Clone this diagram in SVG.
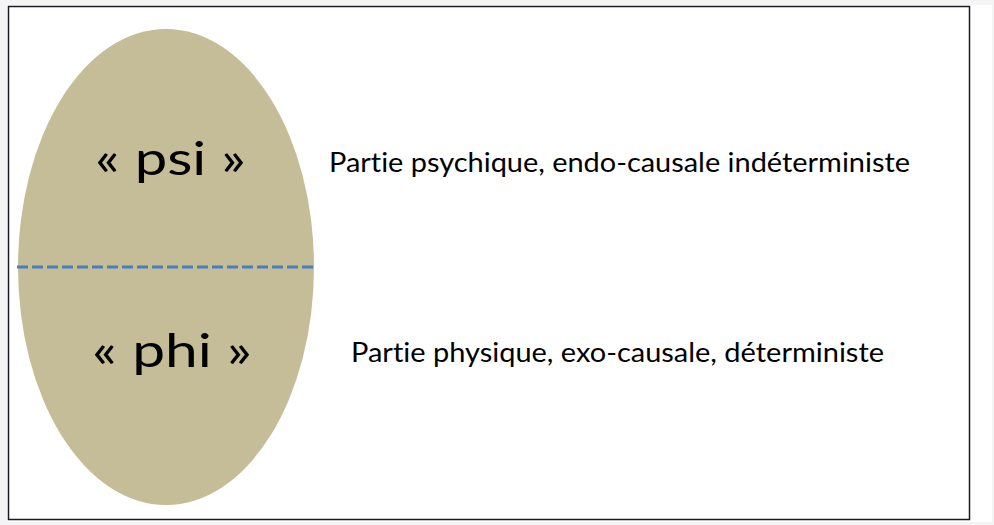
<svg xmlns="http://www.w3.org/2000/svg" width="994" height="525" viewBox="0 0 994 525">
<style>
text{font-variant-ligatures:none;font-feature-settings:"liga" 0,"clig" 0}
.big{font-family:Lato,"Liberation Sans",sans-serif;font-size:46px;fill:#000}
.lbl{font-family:Lato,"Liberation Sans",sans-serif;font-size:26px;fill:#000}
</style>
<rect x="0" y="0" width="994" height="525" fill="#f4f4f4"/>
<rect x="7" y="5" width="985" height="517" fill="#ffffff"/>
<rect x="8.5" y="6.5" width="961" height="513" fill="none" stroke="#1a1a24" stroke-width="1.5"/>
<g id="oval">
<ellipse cx="166" cy="267" rx="148" ry="238" fill="#c4bd97"/>
</g>
<g id="connectors">
<line x1="17" y1="267" x2="316" y2="267" stroke="#4a7ebb" stroke-width="3.2" stroke-dasharray="11,4"/>
</g>
<g id="psi"><text class="big" x="95" y="175" textLength="151" lengthAdjust="spacingAndGlyphs">« psi »</text></g>
<g id="phi"><text class="big" x="92" y="367" textLength="160" lengthAdjust="spacingAndGlyphs">« phi »</text></g>
<g id="label-psi"><text class="lbl" x="329" y="172" textLength="581" lengthAdjust="spacingAndGlyphs">Partie psychique, endo-causale indéterministe</text></g>
<g id="label-phi"><text class="lbl" x="351" y="362" textLength="533" lengthAdjust="spacingAndGlyphs">Partie physique, exo-causale, déterministe</text></g>
</svg>
